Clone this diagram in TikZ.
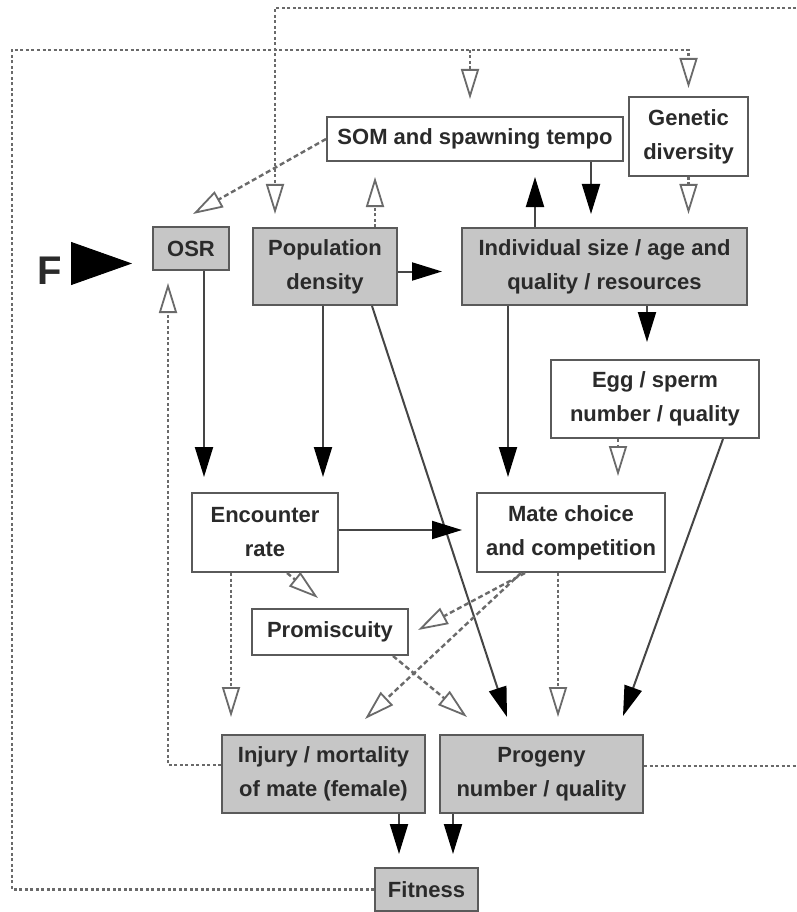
\documentclass[tikz,border=0pt]{standalone}
\usepackage{fontspec}
\setmainfont{Liberation Sans}
\usetikzlibrary{arrows.meta}
\definecolor{bd}{HTML}{5A5A5A}
\definecolor{gf}{HTML}{C6C6C6}
\definecolor{ln}{HTML}{454545}
\definecolor{dl}{HTML}{6A6A6A}
\definecolor{tx}{HTML}{2A2A2A}
\begin{document}
\begin{tikzpicture}[x=1pt,y=-1pt,
  box/.style={draw=bd,line width=2pt,fill=white,inner sep=0pt,align=center,text=tx,
    font=\fontsize{22}{34}\selectfont\bfseries},
  gbox/.style={box,fill=gf},
  sol/.style={draw=ln,line width=2pt,-{Triangle[length=30pt,width=18pt,color=black]}},
  dtt/.style={draw=dl,line width=2.4pt,dash pattern=on 3pt off 2.5pt,
    -{Triangle[length=30pt,width=18pt,fill=white,line width=1.8pt]}},
  dttn/.style={draw=dl,line width=2.4pt,dash pattern=on 3pt off 2.5pt},
  dsh/.style={draw=dl,line width=2.4pt,dash pattern=on 5pt off 3pt,
    -{Triangle[length=30pt,width=18pt,fill=white,line width=1.8pt]}},
  bigarrow/.style={draw=black,line width=1pt,shorten <=10pt,
    -{Triangle[length=61pt,width=43pt,color=black]}}
]
\fill[white] (0,0) rectangle (796,912);
\useasboundingbox (0,0) rectangle (796,912);

% boxes
\node[box,minimum width=296pt,minimum height=44pt] (som) at (475,139) {SOM and spawning tempo};
\node[box,minimum width=119pt,minimum height=79pt] (gen) at (688.5,136.5) {Genetic\\diversity};
\node[gbox,minimum width=76pt,minimum height=43pt] (osr) at (191,248.5) {OSR};
\node[gbox,minimum width=144pt,minimum height=77pt] (pop) at (325,266.5) {Population\\density};
\node[gbox,minimum width=285pt,minimum height=77pt] (ind) at (604.5,266.5) {Individual size / age and\\quality / resources};
\node[box,minimum width=208pt,minimum height=78pt] (egg) at (655,399) {Egg / sperm\\number / quality};
\node[box,minimum width=146pt,minimum height=79pt] (enc) at (265,532.5) {Encounter\\rate};
\node[box,minimum width=188pt,minimum height=79pt] (mate) at (571,532.5) {Mate choice\\and competition};
\node[box,minimum width=156pt,minimum height=46pt] (prom) at (330,632) {Promiscuity};
\node[gbox,minimum width=203pt,minimum height=78pt] (inj) at (323.5,774) {Injury / mortality\\of mate (female)};
\node[gbox,minimum width=203pt,minimum height=78pt] (prog) at (541.5,774) {Progeny\\number / quality};
\node[gbox,minimum width=103pt,minimum height=43pt] (fit) at (426.5,889.5) {Fitness};
\node[inner sep=0pt,text=tx,font=\fontsize{40}{40}\selectfont\bfseries] (F) at (49.5,271) {F};

% F arrow
\draw[bigarrow] ([yshift=7.5pt]F.east) -- ([xshift=-20pt,yshift=-15pt]osr.west);

% solid arrows
\draw[sol] ([xshift=13pt]osr.south) -- ([xshift=-61pt,yshift=15pt]enc.north);
\draw[sol] ([xshift=-2pt]pop.south) -- ([xshift=58pt,yshift=15pt]enc.north);
\draw[sol] ([yshift=-5pt]pop.east) -- ([xshift=-19pt,yshift=-5pt]ind.west);
\draw[sol] ([xshift=47pt]pop.south) -- ([xshift=-34.5pt,yshift=17pt]prog.north);
\draw[sol] ([xshift=-69.5pt]ind.north) -- ([xshift=60pt,yshift=-15pt]som.south);
\draw[sol] ([xshift=116pt]som.south) -- ([xshift=-13.5pt,yshift=13pt]ind.north);
\draw[sol] ([xshift=42.5pt]ind.south) -- ([xshift=-8pt,yshift=17pt]egg.north);
\draw[sol] ([xshift=-96.5pt]ind.south) -- ([xshift=-63pt,yshift=15pt]mate.north);
\draw[sol] ([yshift=2.5pt]enc.east) -- ([xshift=-14pt,yshift=2.5pt]mate.west);
\draw[sol] ([xshift=68pt]egg.south) -- ([xshift=81.5pt,yshift=18pt]prog.north);
\draw[sol] ([xshift=75.5pt]inj.south) -- ([xshift=-27.5pt,yshift=13pt]fit.north);
\draw[sol] ([xshift=-88.5pt]prog.south) -- ([xshift=26.5pt,yshift=13pt]fit.north);

% open / dashed arrows
\draw[dsh] (som.west) -- ([xshift=2pt,yshift=12pt]osr.north);
\draw[dtt] ([xshift=50pt]pop.north) -- ([xshift=-100pt,yshift=-15pt]som.south);
\coordinate (tr) at (796,8);
\coordinate (tl) at (275,8);
\draw[dtt] (tr) -- (tl) -- ([xshift=-50pt,yshift=13pt]pop.north);
\coordinate (bl) at (12,889.5);
\coordinate (ml) at (12,50);
\coordinate (mr) at (688.5,50);
\coordinate (ms) at (470,50);
\draw[dtt] (fit.west) -- (bl) -- (ml) -- (mr) -- ([yshift=8pt]gen.north);
\draw[dtt] (ms) -- ([xshift=-5pt,yshift=17pt]som.north);
\draw[dtt] (gen.south) -- ([xshift=84pt,yshift=13pt]ind.north);
\draw[dtt] ([xshift=-37pt]egg.south) -- ([xshift=47pt,yshift=16pt]mate.north);
\draw[dsh] ([xshift=22pt]enc.south) -- ([xshift=-12pt,yshift=10pt]prom.north);
\draw[dtt] ([xshift=-34pt]enc.south) -- ([xshift=-92.5pt,yshift=17pt]inj.north);
\draw[dsh] ([xshift=-46pt]mate.south) -- ([xshift=9pt,yshift=2pt]prom.east);
\draw[dsh] ([xshift=-50pt]mate.south) -- ([xshift=41.5pt,yshift=15pt]inj.north);
\draw[dtt] ([xshift=-13pt]mate.south) -- ([xshift=16.5pt,yshift=17pt]prog.north);
\draw[dsh] ([xshift=63pt]prom.south) -- ([xshift=-74.5pt,yshift=17pt]prog.north);
\coordinate (il) at (168,765);
\draw[dtt] ([yshift=9pt]inj.west) -- (il) -- ([xshift=-23pt,yshift=-12pt]osr.south);
\coordinate (pr) at (796,766);
\draw[dttn] ([yshift=8pt]prog.east) -- (pr);
\end{tikzpicture}
\end{document}
